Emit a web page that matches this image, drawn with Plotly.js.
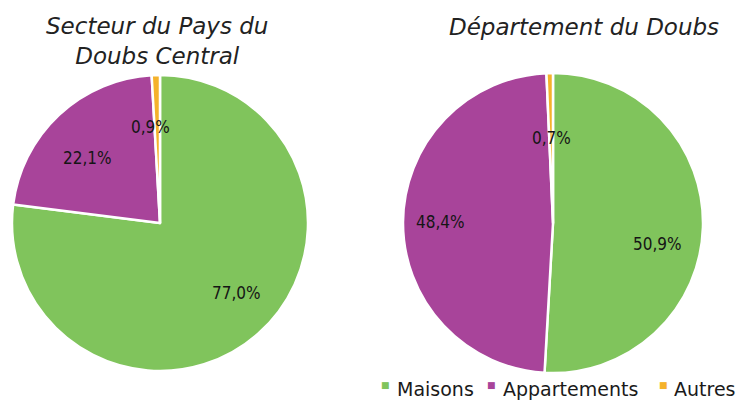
<!DOCTYPE html>
<html>
<head>
<meta charset="utf-8">
<script src="https://cdn.plot.ly/plotly-3.0.1.min.js"></script>
<style>html,body{margin:0;padding:0;background:#fff;}#chart{width:742px;height:400px;}</style>
</head>
<body>
<div id="chart"></div>
<script>
// ---- data ----
const categories = ["Maisons", "Appartements", "Autres"];
const valuesPaysDoubsCentral = [77.0, 22.1, 0.9];
const valuesDepartementDoubs = [50.9, 48.4, 0.7];
const titlePaysDoubsCentral = "Secteur du Pays du<br>Doubs Central";
const titleDepartementDoubs = "Département du Doubs";
const colors = ["#80C45C", "#A8449A", "#F5B22B"];

// ---- layout config (pixels / degrees) ----
const W = 742, H = 400;
const pies = [
  {values: valuesPaysDoubsCentral, cx: 160, cy: 223, r: 148, labelR: [0.70, 0.66, 0.65], labelShift: [-6, -5, -4], title: titlePaysDoubsCentral, tx: 157, ty: 41},
  {values: valuesDepartementDoubs, cx: 553, cy: 223, r: 150, labelR: [0.71, 0.75, 0.57], labelShift: [9.5, 0, 0], title: titleDepartementDoubs, tx: 584, ty: 27}
];
const fmt = v => v.toFixed(1).replace(".", ",") + "%";

const traces = [];
const annotations = [];
pies.forEach((p, i) => {
  traces.push({
    type: "pie",
    labels: categories,
    values: p.values,
    sort: false,
    direction: "clockwise",
    rotation: 0,
    textinfo: "none",
    hoverinfo: "label+percent",
    marker: {colors: colors, line: {color: "#ffffff", width: 2.5}},
    showlegend: false,
    domain: {
      x: [(p.cx - p.r) / W, (p.cx + p.r) / W],
      y: [(H - p.cy - p.r) / H, (H - p.cy + p.r) / H]
    }
  });
  const total = p.values.reduce((a, b) => a + b, 0);
  let cum = 0;
  p.values.forEach((v, k) => {
    const mid = (cum + v / 2) / total * 2 * Math.PI + p.labelShift[k] * Math.PI / 180;
    cum += v;
    const rr = p.labelR[k] * p.r;
    annotations.push({
      xref: "paper", yref: "paper",
      x: (p.cx + rr * Math.sin(mid)) / W,
      y: (H - p.cy + rr * Math.cos(mid)) / H,
      xanchor: "center", yanchor: "middle",
      text: fmt(v), showarrow: false,
      font: {family: "DejaVu Sans Condensed, DejaVu Sans", size: 17, color: "#151515"}
    });
  });
  annotations.push({
    xref: "paper", yref: "paper",
    x: p.tx / W, y: 1 - p.ty / H,
    xanchor: "center", yanchor: "middle",
    text: "<i>" + p.title + "</i>", showarrow: false,
    font: {family: "DejaVu Sans", size: 23, color: "#222222"}
  });
});

// legend drawn as annotations
const legendSquareX = [385, 491, 663];
const legendTextX = [395, 501, 672];
categories.forEach((c, k) => {
  annotations.push({
    xref: "paper", yref: "paper", x: legendSquareX[k] / W, y: 1 - 385 / H,
    xanchor: "center", yanchor: "middle", showarrow: false,
    text: "■", font: {family: "DejaVu Sans", size: 9, color: colors[k]}
  });
  annotations.push({
    xref: "paper", yref: "paper", x: legendTextX[k] / W, y: 1 - 389 / H,
    xanchor: "left", yanchor: "middle", showarrow: false,
    text: c, font: {family: "DejaVu Sans", size: 19, color: "#1a1a1a"}
  });
});

const layout = {
  width: W, height: H,
  margin: {l: 0, r: 0, t: 0, b: 0},
  paper_bgcolor: "#ffffff",
  showlegend: false,
  annotations: annotations
};
Plotly.newPlot("chart", traces, layout, {displayModeBar: false, staticPlot: true});
</script>
</body>
</html>
